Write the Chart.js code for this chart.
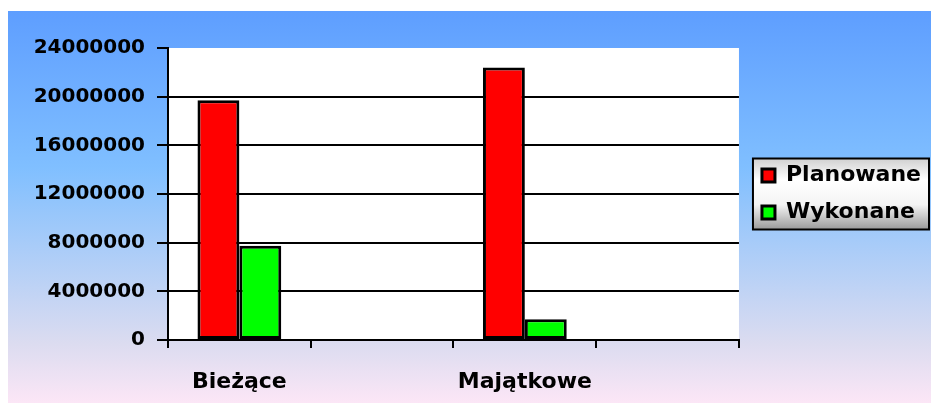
<!DOCTYPE html>
<html>
<head>
<meta charset="utf-8">
<script src="https://cdn.jsdelivr.net/npm/chart.js@4/dist/chart.umd.min.js"></script>
<style>
  html, body { margin: 0; padding: 0; background: #fff; }
  #wrap { width: 931px; height: 403px; }
</style>
</head>
<body>
<div id="wrap"><canvas id="myChart" width="931" height="403"></canvas></div>
<script>
// data
const categories = ["Bieżące", "", "Majątkowe", ""]
const planowane = [19700000, null, 22400000, null]
const wykonane = [7750000, null, 1700000, null]
const yTicks = [0, 4000000, 8000000, 12000000, 16000000, 20000000, 24000000]

const FONT = "'DejaVu Sans', sans-serif"

// gradient page background, white plot area and the legend frame
const backdrop = {
  id: "backdrop",
  beforeDraw(chart) {
    const { ctx, width, height, chartArea } = chart
    ctx.save()
    const g = ctx.createLinearGradient(0, 11, 0, height)
    g.addColorStop(0, "#5e9eff")
    g.addColorStop(0.4, "#80bfff")
    g.addColorStop(0.85, "#dcdcf0")
    g.addColorStop(1, "#fce6f6")
    ctx.fillStyle = g
    ctx.fillRect(8, 11, width - 8, height - 11)

    ctx.fillStyle = "#fff"
    ctx.fillRect(chartArea.left, chartArea.top, chartArea.right - chartArea.left, chartArea.bottom - chartArea.top)

    const hb = chart.legend && chart.legend.legendHitBoxes
    if (hb && hb.length) {
      const x0 = chart.legend.left + 6
      const y0 = hb[0].top - 6
      const x1 = width - 2
      const y1 = hb[hb.length - 1].top + hb[hb.length - 1].height + 6
      const lg = ctx.createLinearGradient(0, y0, 0, y1)
      lg.addColorStop(0, "#d0d0d0")
      lg.addColorStop(0.3, "#ffffff")
      lg.addColorStop(0.65, "#f4f4f4")
      lg.addColorStop(1, "#9a9a9a")
      ctx.fillStyle = lg
      ctx.fillRect(x0, y0, x1 - x0, y1 - y0)
      ctx.lineWidth = 2
      ctx.strokeStyle = "#000"
      ctx.strokeRect(x0, y0, x1 - x0, y1 - y0)
    }
    ctx.restore()
  },
}

const ctx = document.getElementById("myChart").getContext("2d")
const myChart = new Chart(ctx, {
  type: "bar",
  data: {
    labels: categories,
    datasets: [
      {
        label: "Planowane",
        data: planowane,
        backgroundColor: "#ff0000",
        borderColor: "#000",
        borderWidth: 3,
        borderSkipped: false,
      },
      {
        label: "Wykonane",
        data: wykonane,
        backgroundColor: "#00ff00",
        borderColor: "#000",
        borderWidth: 3,
        borderSkipped: false,
      },
    ],
  },
  options: {
    responsive: false,
    animation: false,
    devicePixelRatio: 1,
    layout: { padding: { left: 8, top: 48, right: 0, bottom: 0 } },
    datasets: {
      bar: { categoryPercentage: 0.587, barPercentage: 1.0 },
    },
    plugins: {
      tooltip: { enabled: false },
      legend: {
        position: "right",
        fullSize: false,
        maxWidth: 400,
        labels: {
          color: "#000",
          font: { family: FONT, size: 22, weight: "bold" },
          boxWidth: 13,
          boxHeight: 13,
          padding: 15,
        },
      },
    },
    scales: {
      x: {
        grid: {
          display: true,
          drawOnChartArea: false,
          drawTicks: true,
          tickLength: 8,
          color: "#000",
          lineWidth: 2,
        },
        border: { color: "#000", width: 2 },
        ticks: {
          color: "#000",
          font: { family: FONT, size: 22, weight: "bold" },
          padding: 21,
          maxRotation: 0,
        },
        afterFit(s) { s.height = 63 },
      },
      y: {
        min: 0,
        max: 24000000,
        afterBuildTicks(s) { s.ticks = yTicks.map(v => ({ value: v })) },
        grid: {
          color: c => (c.tick && c.tick.value === 24000000 ? "rgba(0,0,0,0)" : "#000"),
          tickColor: "#000",
          lineWidth: 2,
          tickLength: 11,
        },
        border: { color: "#000", width: 2 },
        ticks: {
          color: "#000",
          font: { family: FONT, size: 20, weight: "bold" },
          padding: 12,
          callback: v => String(v),
        },
        afterFit(s) { s.width = 160 },
      },
      y2: {
        position: "right",
        display: true,
        grid: { display: false, drawTicks: false },
        border: { display: false },
        ticks: { display: false },
        afterFit(s) { s.width = 8 },
      },
    },
  },
  plugins: [backdrop],
})
</script>
</body>
</html>
